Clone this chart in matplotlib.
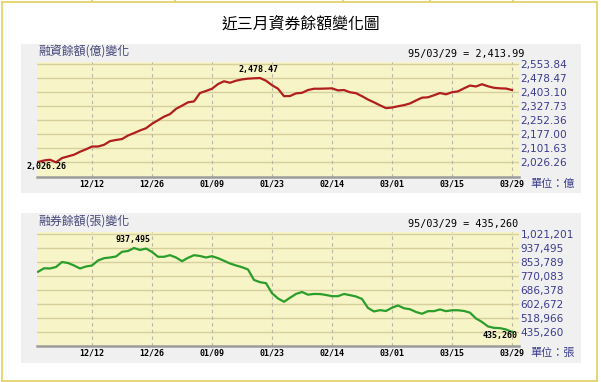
import numpy as np
import matplotlib
matplotlib.use("Agg")
import matplotlib.pyplot as plt
from matplotlib.patches import Rectangle
from matplotlib.lines import Line2D

# ---------------- data ----------------
title = "近三月資券餘額變化圖"
margin_title = "融資餘額(億)變化"
short_title = "融券餘額(張)變化"
margin_unit = "單位：億"
short_unit = "單位：張"
last_date = "95/03/29"

date_ticks = [9, 19, 29, 39, 49, 59, 69, 79]
date_labels = ["12/12", "12/26", "01/09", "01/23", "02/14", "03/01", "03/15", "03/29"]

margin_ticks = [2026.26, 2101.63, 2177.00, 2252.36, 2327.73, 2403.10, 2478.47, 2553.84]
short_ticks = [435260, 518966, 602672, 686378, 770083, 853789, 937495, 1021201]

margin_values = [
    2028, 2036, 2040, 2026.26, 2049, 2058, 2067, 2083, 2096, 2111,
    2111, 2120, 2140, 2146, 2151, 2170, 2183, 2197, 2209, 2233,
    2252, 2271, 2285, 2313, 2330, 2348, 2353, 2398, 2409, 2421,
    2446, 2461, 2453, 2464, 2471, 2475, 2477, 2478.47, 2464, 2440,
    2421, 2381, 2382, 2396, 2399, 2414, 2421, 2421, 2422, 2423,
    2412, 2414, 2402, 2397, 2381, 2363, 2348, 2332, 2317, 2320,
    2327, 2333, 2342, 2358, 2373, 2375, 2386, 2398, 2391, 2402,
    2407, 2423, 2438, 2433, 2445, 2434, 2426, 2423, 2422, 2413.99,
]

short_values = [
    795200, 816100, 815000, 823900, 853800, 847800, 832900, 815000, 826900, 832900,
    862800, 876500, 880700, 886700, 914800, 919600, 937495, 925600, 934000, 914000,
    884900, 884900, 894400, 880700, 858600, 878900, 894400, 889700, 880700, 888500,
    876500, 861000, 844800, 832900, 822700, 808900, 746200, 733000, 727000, 667000,
    635600, 615800, 639700, 662500, 674400, 658300, 662500, 662000, 656500, 649300,
    649300, 662500, 655300, 647500, 632600, 578800, 557800, 565600, 560800, 580000,
    593700, 577000, 571000, 554800, 544100, 559600, 559600, 569800, 559600, 565000,
    565000, 560800, 550700, 515900, 495100, 468200, 459800, 458000, 450200, 435260,
]

# ---------------- styling ----------------
W, H = 601, 382
CJK = ["Noto Sans CJK TC", "DejaVu Sans"]
BLUE = "#3B3B8F"
TITLE_GREY = "#45457A"
PANEL = "#F0F0F0"
PLOT_BG = "#F7F4C8"
HGRID = "#D6D09C"
VGRID = "#B9B8A6"
FRAME = "#E5D36B"

fig = plt.figure(figsize=(W / 100, H / 100), dpi=100)
fig.patch.set_facecolor("white")


def fx(x):
    return x / W


def fy(y):
    return 1 - y / H


# outer frame
frame_lines = [
    ((1.5, 1.5), (1.5, 380.5)),
    ((1.5, 597), (380.5, 380.5)),
    ((597, 597), (1.5, 380.5)),
    ((1.5, 597), (1.5, 1.5)),
]
for xs, ys in frame_lines:
    fig.add_artist(Line2D([fx(v) for v in xs], [fy(v) for v in ys],
                          color=FRAME, lw=1.3, transform=fig.transFigure))
for xv in [92, 175, 343, 430, 513]:
    fig.add_artist(Line2D([fx(xv), fx(xv)], [fy(0), fy(1.5)], color=FRAME,
                          lw=1.3, transform=fig.transFigure))

fig.text(fx(301), fy(24), title, family=CJK, fontsize=11.4, ha="center",
         va="center", color="black")


def panel(top, bottom, plot_top, plot_bottom, values, ticks, ylim, color,
          ptitle, unit, vlabel, fmt, max_off, min_off, label_max, label_min):
    fig.add_artist(Rectangle((fx(21), fy(bottom)), fx(560), (bottom - top) / H,
                             transform=fig.transFigure, facecolor=PANEL,
                             edgecolor="none", zorder=0))
    ax = fig.add_axes([fx(37), fy(plot_bottom), fx(482), (plot_bottom - plot_top) / H])
    ax.set_facecolor(PLOT_BG)
    x = np.arange(len(values))
    ax.set_xlim(-0.17, 80.17)
    ax.set_ylim(*ylim)
    for t in ticks:
        ax.axhline(t, color=HGRID, lw=1.0, zorder=1)
    for t in date_ticks:
        ax.axvline(t, color=VGRID, lw=0.8, dashes=(3, 3), zorder=1)
    ax.plot(x, values, color=color, lw=1.6, zorder=3, solid_joinstyle="round")

    for s in ["top", "left", "right"]:
        ax.spines[s].set_visible(False)
    ax.spines["bottom"].set_color("#9C9C9C")
    ax.spines["bottom"].set_linewidth(1.8)

    ax.yaxis.tick_right()
    ax.set_yticks(ticks)
    ax.set_yticklabels([fmt(t) for t in ticks], color=BLUE, fontsize=7.6,
                       family="DejaVu Sans")
    ax.tick_params(axis="y", length=0, pad=1.2)
    ax.set_xticks(date_ticks)
    ax.set_xticklabels(date_labels, fontsize=6, family="DejaVu Sans Mono",
                       fontweight="bold")
    ax.tick_params(axis="x", length=0, pad=2.2)

    fig.text(fx(38), fy(plot_top - 10), ptitle, family=CJK, fontsize=8.6,
             color=TITLE_GREY, ha="left", va="center")
    fig.text(fx(408), fy(plot_top - 8), vlabel, family="DejaVu Sans Mono",
             fontsize=7.3, color="black", ha="left", va="center")
    fig.text(fx(530), fy(plot_bottom + 7.5), unit, family=CJK, fontsize=8,
             color=BLUE, ha="left", va="center")

    imax = int(np.argmax(values))
    imin = int(np.argmin(values))
    if label_max:
        ax.annotate(fmt(values[imax]), xy=(imax, values[imax]), xytext=max_off,
                    textcoords="offset points", ha="center", va="center",
                    fontsize=6, family="DejaVu Sans Mono", fontweight="bold",
                    annotation_clip=False, zorder=4)
    if label_min:
        ax.annotate(fmt(values[imin]), xy=(imin, values[imin]), xytext=min_off,
                    textcoords="offset points", ha="center", va="center",
                    fontsize=6, family="DejaVu Sans Mono", fontweight="bold",
                    annotation_clip=False, zorder=4)
    return ax


panel(44, 193, 61.7, 176.7, margin_values, margin_ticks, (1949, 2566),
      "#B01E1E", margin_title, margin_unit,
      f"{last_date} = {margin_values[-1]:,.2f}", lambda v: f"{v:,.2f}",
      (-1.0, 5.8), (-6.5, -3.2), True, True)

panel(213, 363, 231.7, 345.7, short_values, short_ticks, (353000, 1035000),
      "#2A9D2A", short_title, short_unit,
      f"{last_date} = {short_values[-1]:,.0f}", lambda v: f"{v:,.0f}",
      (-0.5, 6.3), (-8.9, -2.9), True, True)

fig.savefig("out.png", dpi=100)
